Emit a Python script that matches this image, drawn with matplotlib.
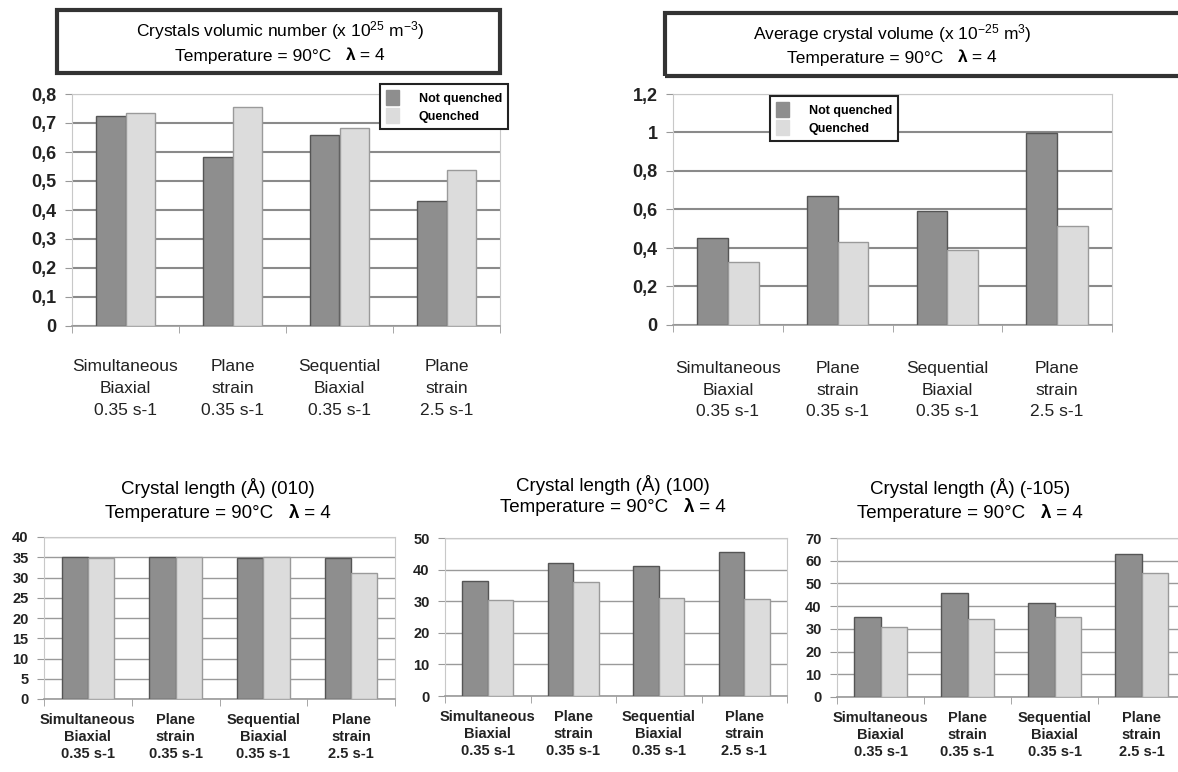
import numpy as np
import matplotlib
matplotlib.use('Agg')
import matplotlib.pyplot as plt
from matplotlib.patches import Rectangle, Patch

plt.rcParams['font.family'] = ['Liberation Sans', 'DejaVu Sans']
plt.rcParams['mathtext.fontset'] = 'custom'
plt.rcParams['mathtext.rm'] = 'Liberation Sans'
plt.rcParams['mathtext.it'] = 'Liberation Sans:italic'
plt.rcParams['mathtext.bf'] = 'Liberation Sans:bold'

# Data
categories = ["Simultaneous\nBiaxial\n0.35 s-1", "Plane\nstrain\n0.35 s-1",
              "Sequential\nBiaxial\n0.35 s-1", "Plane\nstrain\n2.5 s-1"]
series_names = ["Not quenched", "Quenched"]

number_not = [0.725, 0.582, 0.659, 0.431]
number_q = [0.733, 0.756, 0.684, 0.537]
number_ticks = [0, 0.1, 0.2, 0.3, 0.4, 0.5, 0.6, 0.7, 0.8]
number_ticklabels = ["0", "0,1", "0,2", "0,3", "0,4", "0,5", "0,6", "0,7", "0,8"]

volume_not = [0.454, 0.672, 0.592, 0.999]
volume_q = [0.326, 0.43, 0.388, 0.514]
volume_ticks = [0, 0.2, 0.4, 0.6, 0.8, 1.0, 1.2]
volume_ticklabels = ["0", "0,2", "0,4", "0,6", "0,8", "1", "1,2"]

len010_not = [35, 35, 34.8, 34.8]
len010_q = [34.8, 35, 35, 31]
len100_not = [36.4, 42.0, 41.1, 45.5]
len100_q = [30.4, 36.1, 31, 30.6]
len105_not = [35.2, 45.8, 41.3, 63]
len105_q = [30.8, 34.3, 35.1, 54.6]

W, H = 1178, 772
DARK = '#8e8e8e'
LIGHT = '#dcdcdc'

fig = plt.figure(figsize=(W / 100, H / 100), dpi=100)
renderer = fig.canvas.get_renderer()


def px_axes(left, top, right, bottom):
    return fig.add_axes([left / W, 1 - bottom / H, (right - left) / W, (bottom - top) / H])


def draw_bars(ax, v_not, v_q, ymax, ticks, ticklabels, bw, gridc, gridlw, tickfs, catfs, catbold, labpad, lsp):
    x = np.arange(len(categories))
    ax.bar(x - bw / 2, v_not, bw, color=DARK, edgecolor='#555555', linewidth=1, zorder=3)
    ax.bar(x + bw / 2, v_q, bw, color=LIGHT, edgecolor='#9a9a9a', linewidth=1, zorder=3)
    ax.set_xlim(-0.5, len(categories) - 0.5)
    ax.set_ylim(0, ymax)
    ax.set_yticks(ticks)
    ax.set_yticklabels(ticklabels, fontsize=tickfs, fontweight='bold', color='#222222')
    ax.yaxis.grid(True, color=gridc, linewidth=gridlw, zorder=0)
    ax.set_axisbelow(True)
    ax.set_xticks(x)
    ax.set_xticklabels(categories, fontsize=catfs, fontweight='bold' if catbold else 'normal',
                       color='#222222', linespacing=lsp)
    ax.set_xticks(np.arange(len(categories) + 1) - 0.5, minor=True)
    ax.tick_params(axis='x', which='major', length=0, pad=labpad)
    ax.tick_params(axis='x', which='minor', length=5, color='#999999', direction='out')
    ax.tick_params(axis='y', length=5, color='#999999', pad=6)
    for s in ['top', 'right', 'left']:
        ax.spines[s].set_color('#c8c8c8')
    ax.spines['bottom'].set_color('#999999')
    ax.spines['bottom'].set_linewidth(1.2)
    return ax


def title_box(x0, y0, x1, y1):
    fig.add_artist(Rectangle((x0 / W, 1 - y1 / H), (x1 - x0) / W, (y1 - y0) / H,
                             transform=fig.transFigure, fill=False, edgecolor='#333333', linewidth=3))


def title_lines(xc, y_first, y_second, first, fs):
    fig.text(xc / W, 1 - y_first / H, first, ha='center', va='center', fontsize=fs)
    # second line: plain text, then a bold lambda, then "= 4", centred together
    parts = [("Temperature = 90°C   ", 'normal'), ("λ", 'bold'), (" = 4", 'normal')]
    texts = [fig.text(0, 1 - y_second / H, s, ha='left', va='center', fontsize=fs, fontweight=w)
             for s, w in parts]
    widths = [t.get_window_extent(renderer=renderer).width for t in texts]
    x = xc - sum(widths) / 2
    for t, w in zip(texts, widths):
        t.set_x(x / W)
        x += w


def legend_box(ax, x0, y0):
    handles = [Patch(facecolor=DARK, edgecolor=DARK), Patch(facecolor=LIGHT, edgecolor=LIGHT)]
    leg = ax.legend(handles, series_names, loc='upper left', bbox_to_anchor=(x0 / W, 1 - y0 / H),
                    bbox_transform=fig.transFigure, fancybox=False, framealpha=1,
                    prop={'size': 9, 'weight': 'bold'}, handlelength=1.0, handleheight=1.4,
                    handletextpad=1.6, borderpad=0.5, labelspacing=0.3, borderaxespad=0)
    leg.get_frame().set_edgecolor('#222222')
    leg.get_frame().set_linewidth(1.5)
    leg.set_zorder(10)


## Top-left: crystals volumic number
ax1 = px_axes(72, 94, 500, 326)
draw_bars(ax1, number_not, number_q, 0.8, number_ticks, number_ticklabels, 0.28, '#8a8a8a', 1.5, 13, 12.5, False, 24, 1.55)
title_box(57, 10, 500, 73)
title_lines(280, 31, 56, r"Crystals volumic number (x 10$^{25}$ m$^{-3}$)", 12.5)
legend_box(ax1, 380, 84)

## Top-right: average crystal volume
ax2 = px_axes(673, 94, 1112, 325)
draw_bars(ax2, volume_not, volume_q, 1.2, volume_ticks, volume_ticklabels, 0.28, '#8a8a8a', 1.5, 13, 12.5, False, 26, 1.55)
title_box(665, 13, 1190, 76)
title_lines(892, 34, 58, r"Average crystal volume (x 10$^{-25}$ m$^{3}$)", 12.5)
legend_box(ax2, 770, 96)

## Bottom row: crystal lengths
ax3 = px_axes(44, 537, 395, 699)
draw_bars(ax3, len010_not, len010_q, 40, [0, 5, 10, 15, 20, 25, 30, 35, 40],
          ["0", "5", "10", "15", "20", "25", "30", "35", "40"], 0.3, '#9a9a9a', 1.0, 10.5, 10.5, True, 10, 1.3)
title_lines(218, 488, 513, "Crystal length (Å) (010)", 13.5)

ax4 = px_axes(445, 538, 787, 696)
draw_bars(ax4, len100_not, len100_q, 50, [0, 10, 20, 30, 40, 50],
          ["0", "10", "20", "30", "40", "50"], 0.3, '#9a9a9a', 1.0, 10.5, 10.5, True, 10, 1.3)
title_lines(613, 485, 508, "Crystal length (Å) (100)", 13.5)

ax5 = px_axes(837, 538, 1185, 697)
draw_bars(ax5, len105_not, len105_q, 70, [0, 10, 20, 30, 40, 50, 60, 70],
          ["0", "10", "20", "30", "40", "50", "60", "70"], 0.3, '#9a9a9a', 1.0, 10.5, 10.5, True, 10, 1.3)
title_lines(970, 488, 513, "Crystal length (Å) (-105)", 13.5)

fig.savefig('out.png', dpi=100, facecolor='white')
